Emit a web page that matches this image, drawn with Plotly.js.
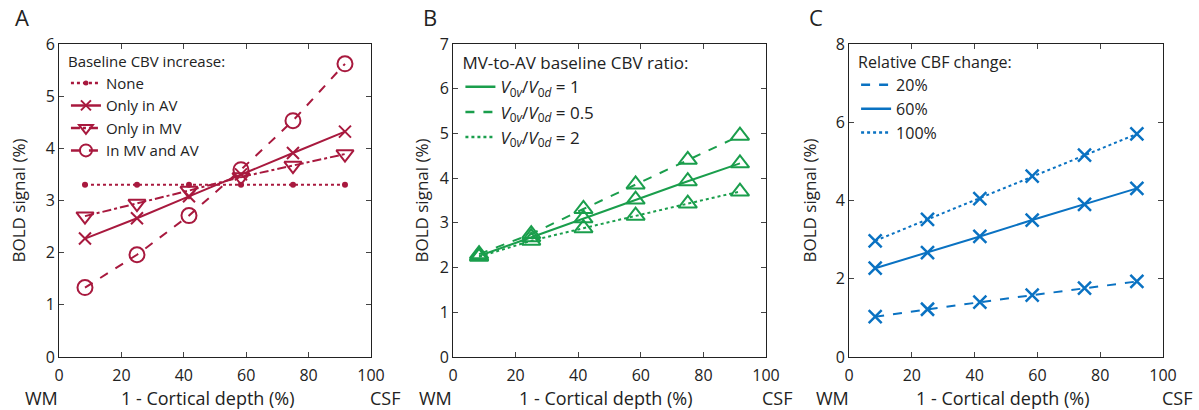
<!DOCTYPE html>
<html>
<head>
<meta charset="utf-8">
<script src="https://cdn.plot.ly/plotly-3.0.1.min.js"></script>
<style>html,body{margin:0;padding:0;background:#fff;}#chart{width:1199px;height:410px;}</style>
</head>
<body>
<div id="chart"></div>
<script>
// Layer positions (1 - cortical depth, %)
const depth = [8.33, 25, 41.67, 58.33, 75, 91.67];

// Panel A: Baseline CBV increase
const aNone   = [3.3, 3.3, 3.3, 3.3, 3.3, 3.3];
const aOnlyAV = [2.27, 2.66, 3.08, 3.5, 3.91, 4.32];
const aOnlyMV = [2.7, 2.94, 3.19, 3.45, 3.67, 3.89];
const aMVAV   = [1.33, 1.96, 2.71, 3.59, 4.53, 5.62];

// Panel B: MV-to-AV baseline CBV ratio
const bRatio1  = [2.26, 2.68, 3.1, 3.52, 3.93, 4.33];
const bRatio05 = [2.3, 2.75, 3.31, 3.86, 4.41, 4.95];
const bRatio2  = [2.24, 2.6, 2.88, 3.16, 3.43, 3.7];

// Panel C: Relative CBF change
const c20  = [1.03, 1.22, 1.4, 1.58, 1.76, 1.93];
const c60  = [2.27, 2.67, 3.08, 3.5, 3.9, 4.31];
const c100 = [2.97, 3.52, 4.05, 4.62, 5.16, 5.7];

// Labels
const aNames = ['None', 'Only in AV', 'Only in MV', 'In MV and AV'];
const bNames = ['<i>V</i><sub>0<i>v</i></sub>/<i>V</i><sub>0<i>d</i></sub> = 1',
                '<i>V</i><sub>0<i>v</i></sub>/<i>V</i><sub>0<i>d</i></sub> = 0.5',
                '<i>V</i><sub>0<i>v</i></sub>/<i>V</i><sub>0<i>d</i></sub> = 2'];
const cNames = ['20%', '60%', '100%'];
const xTicks = [0, 20, 40, 60, 80, 100];

const red = '#A8193E', green = '#1A9E4C', blue = '#0A72C2';
const FONT = 'Open Sans, Noto Sans, sans-serif';
const TXT = '#222';

function series(x, y, name, xa, ya, lg, color, dash, sym, size, lw) {
  const open = sym.indexOf('open') >= 0;
  return {x: x, y: y, name: name, mode: 'lines+markers', xaxis: xa, yaxis: ya, legend: lg, showlegend: false,
    line: {color: color, width: 2, dash: dash},
    marker: {symbol: sym, size: size, color: color, line: {color: color, width: open ? lw : 0}}};
}
// legend-only entries
function legItem(name, xa, ya, lg, color, dash, sym, size) {
  const t = {x: [null], y: [null], name: name, mode: sym ? 'lines+markers' : 'lines', xaxis: xa, yaxis: ya, legend: lg,
    line: {color: color, width: 2.5, dash: dash}, hoverinfo: 'skip'};
  if (sym) t.marker = {symbol: sym, size: size, color: color, line: {color: color, width: sym.indexOf('open') >= 0 ? 2 : 0}};
  return t;
}

const traces = [
  series(depth, aNone,   aNames[0], 'x', 'y', 'legend', red, 'dot',     'circle',             6,  2),
  series(depth, aOnlyAV, aNames[1], 'x', 'y', 'legend', red, 'solid',   'x-thin-open',        12, 2),
  series(depth, aOnlyMV, aNames[2], 'x', 'y', 'legend', red, 'dashdot', 'triangle-down-open', 15, 2),
  series(depth, aMVAV,   aNames[3], 'x', 'y', 'legend', red, 'dash',    'circle-open',        15, 2),
  legItem(aNames[0], 'x', 'y', 'legend', red, 'dot',     'circle',             5),
  legItem(aNames[1], 'x', 'y', 'legend', red, 'solid',   'x-thin-open',        10),
  legItem(aNames[2], 'x', 'y', 'legend', red, 'dashdot', 'triangle-down-open', 12),
  legItem(aNames[3], 'x', 'y', 'legend', red, 'dash',    'circle-open',        12),

  series(depth, bRatio1,  bNames[0], 'x2', 'y2', 'legend2', green, 'solid', 'triangle-up-open', 16, 2),
  series(depth, bRatio05, bNames[1], 'x2', 'y2', 'legend2', green, 'dash',  'triangle-up-open', 16, 2),
  series(depth, bRatio2,  bNames[2], 'x2', 'y2', 'legend2', green, 'dot',   'triangle-up-open', 16, 2),
  legItem(bNames[0], 'x2', 'y2', 'legend2', green, 'solid'),
  legItem(bNames[1], 'x2', 'y2', 'legend2', green, 'dash'),
  legItem(bNames[2], 'x2', 'y2', 'legend2', green, 'dot'),

  series(depth, c20,  cNames[0], 'x3', 'y3', 'legend3', blue, 'dash',  'x-thin-open', 13, 2.5),
  series(depth, c60,  cNames[1], 'x3', 'y3', 'legend3', blue, 'solid', 'x-thin-open', 13, 2.5),
  series(depth, c100, cNames[2], 'x3', 'y3', 'legend3', blue, 'dot',   'x-thin-open', 13, 2.5),
  legItem(cNames[0], 'x3', 'y3', 'legend3', blue, 'dash'),
  legItem(cNames[1], 'x3', 'y3', 'legend3', blue, 'solid'),
  legItem(cNames[2], 'x3', 'y3', 'legend3', blue, 'dot')
];

function xax(dom, anchor) {
  return {domain: dom, anchor: anchor, range: [0, 100], tickvals: xTicks, ticks: 'inside', ticklen: 5, mirror: 'ticks',
    showline: true, linecolor: TXT, linewidth: 1, showgrid: false, zeroline: false, ticklabelstandoff: 4,
    tickfont: {size: 16, color: TXT, family: FONT}};
}
function yax(max, dtick, anchor, standoff) {
  return {domain: [0.1293, 0.8927], range: [0, max], dtick: dtick, ticks: 'inside', ticklen: 5, mirror: 'ticks',
    showline: true, linecolor: TXT, linewidth: 1, showgrid: false, zeroline: false, anchor: anchor,
    tickfont: {size: 16, color: TXT, family: FONT},
    title: {text: 'BOLD signal (%)', font: {size: 17, color: TXT, family: FONT}, standoff: standoff}};
}
function leg(x, y, title, size) {
  return {x: x, y: y, xanchor: 'left', yanchor: 'top', bgcolor: 'rgba(0,0,0,0)',
    title: {text: title, font: {size: size, color: TXT, family: FONT}},
    font: {size: size, color: TXT, family: FONT}, tracegroupgap: 0, itemwidth: 30};
}

const ann = [];
[['A', 0.011], ['B', 0.351], ['C', 0.673]].forEach(([t, x]) => ann.push({text: t, x: x, y: 1.0, xref: 'paper', yref: 'paper',
  xanchor: 'left', yanchor: 'top', showarrow: false, font: {size: 22, color: TXT, family: FONT}}));
const yRow = 1 - 398 / 410;
[[42, 208, 385], [435, 606, 778], [832, 1003, 1177]].forEach(([w, m, c]) => {
  ann.push({text: 'WM', x: w / 1199, y: yRow, xref: 'paper', yref: 'paper', xanchor: 'center', yanchor: 'middle', showarrow: false, font: {size: 18, color: TXT, family: FONT}});
  ann.push({text: '1 - Cortical depth (%)', x: m / 1199, y: yRow, xref: 'paper', yref: 'paper', xanchor: 'center', yanchor: 'middle', showarrow: false, font: {size: 18, color: TXT, family: FONT}});
  ann.push({text: 'CSF', x: c / 1199, y: yRow, xref: 'paper', yref: 'paper', xanchor: 'center', yanchor: 'middle', showarrow: false, font: {size: 18, color: TXT, family: FONT}});
});

const layout = {
  width: 1199, height: 410, margin: {l: 0, r: 0, t: 0, b: 0},
  paper_bgcolor: '#fff', plot_bgcolor: '#fff', font: {family: FONT, color: TXT},
  xaxis: xax([0.0492, 0.3094], 'y'), yaxis: yax(6, 1, 'x', 15),
  xaxis2: xax([0.3778, 0.6389], 'y2'), yaxis2: yax(7, 1, 'x2', 6),
  xaxis3: xax([0.7081, 0.9700], 'y3'), yaxis3: yax(8, 2, 'x3', 14),
  legend: leg(0.055, 0.885, 'Baseline CBV increase:', 15),
  legend2: leg(0.384, 0.885, 'MV-to-AV baseline CBV ratio:', 17),
  legend3: leg(0.714, 0.885, 'Relative CBF change:', 16),
  annotations: ann, showlegend: true
};

Plotly.newPlot('chart', traces, layout, {displayModeBar: false, staticPlot: true});
</script>
</body>
</html>
